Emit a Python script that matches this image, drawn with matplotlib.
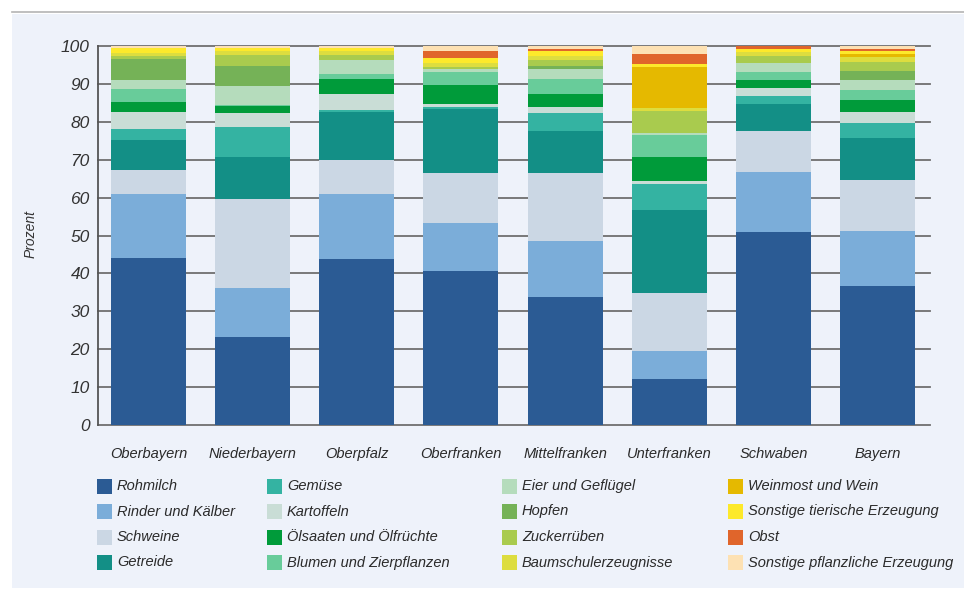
import matplotlib
matplotlib.use("Agg")
import matplotlib.pyplot as plt
from matplotlib.patches import Rectangle
from matplotlib.lines import Line2D
import numpy as np

plt.rcParams['font.family'] = ['Liberation Sans', 'DejaVu Sans']

regions = ["Oberbayern", "Niederbayern", "Oberpfalz", "Oberfranken",
           "Mittelfranken", "Unterfranken", "Schwaben", "Bayern"]

# Anteile am Produktionswert in Prozent, je Regierungsbezirk (Reihenfolge wie regions)
rohmilch          = [44.0, 23.3, 43.7, 40.6, 33.8, 12.2, 50.9, 36.6]
rinder_kaelber    = [17.0, 12.8, 17.2, 12.7, 14.7,  7.4, 15.8, 14.5]
schweine          = [ 6.3, 23.4,  8.9, 13.2, 17.9, 15.2, 11.0, 13.5]
getreide          = [ 7.9, 11.3, 12.9, 17.0, 11.3, 22.0,  7.1, 11.0]
gemuese           = [ 2.8,  7.7,  0.3,  0.5,  4.7,  6.8,  2.0,  4.0]
kartoffeln        = [ 4.7,  3.7,  4.4,  0.7,  1.6,  0.8,  2.2,  3.1]
oelsaaten         = [ 2.4,  1.9,  3.8,  5.0,  3.3,  6.4,  2.0,  3.1]
blumen            = [ 3.5,  0.4,  1.3,  3.4,  3.9,  5.7,  2.2,  2.6]
eier_gefluegel    = [ 2.3,  4.9,  3.7,  0.8,  2.8,  0.6,  2.2,  2.7]
hopfen            = [ 5.6,  5.3,  0.0,  0.0,  0.8,  0.0,  0.0,  2.3]
zuckerrueben      = [ 0.9,  2.8,  1.4,  0.5,  1.5,  5.8,  1.9,  2.4]
baumschule        = [ 0.8,  1.3,  1.2,  1.1,  1.1,  0.7,  1.0,  1.2]
weinmost_wein     = [ 0.0,  0.0,  0.0,  0.0,  0.0, 10.9,  0.0,  1.0]
sonst_tierisch    = [ 1.4,  0.7,  0.7,  1.3,  1.2,  0.8,  0.8,  0.6]
obst              = [ 0.0,  0.1,  0.1,  1.9,  0.7,  2.6,  0.8,  0.7]
sonst_pflanzlich  = [ 0.4,  0.4,  0.4,  1.3,  0.7,  2.1,  0.1,  0.7]

series_labels = ["Rohmilch", "Rinder und Kälber", "Schweine", "Getreide",
                 "Gemüse", "Kartoffeln", "Ölsaaten und Ölfrüchte", "Blumen und Zierpflanzen",
                 "Eier und Geflügel", "Hopfen", "Zuckerrüben", "Baumschulerzeugnisse",
                 "Weinmost und Wein", "Sonstige tierische Erzeugung", "Obst",
                 "Sonstige pflanzliche Erzeugung"]
series_values = [rohmilch, rinder_kaelber, schweine, getreide,
                 gemuese, kartoffeln, oelsaaten, blumen,
                 eier_gefluegel, hopfen, zuckerrueben, baumschule,
                 weinmost_wein, sonst_tierisch, obst, sonst_pflanzlich]
series_colors = ["#2b5b94", "#7badd9", "#cbd7e4", "#138f86",
                 "#34b3a2", "#c9ddd6", "#009b3a", "#68cc9a",
                 "#b5dcbc", "#75b257", "#a9cb4e", "#dddd3f",
                 "#e5b900", "#fde92b", "#e0652b", "#fde1b3"]

W, H = 964, 590
fig = plt.figure(figsize=(W / 100, H / 100), dpi=100)
fig.patch.set_facecolor("white")

def fx(px):
    return px / W

def fy(py):
    return 1 - py / H

# Hintergrundfläche und Trennlinie oben
fig.add_artist(Rectangle((fx(12), fy(588)), fx(W - 12), (588 - 14) / H,
                         transform=fig.transFigure, facecolor="#eef2fa",
                         edgecolor="none", zorder=0))
fig.add_artist(Line2D([fx(12), 1], [fy(11.5), fy(11.5)], transform=fig.transFigure,
                      color="#b4b4b4", lw=1.2, zorder=1))

ax = fig.add_axes([fx(98), fy(425), fx(930 - 98), (425 - 46) / H])
ax.set_facecolor("none")

x = np.arange(len(regions))
bottom = np.zeros(len(regions))
for vals, col in zip(series_values, series_colors):
    vals = np.asarray(vals)
    ax.bar(x, vals, bottom=bottom, width=0.72, color=col, edgecolor="none",
           linewidth=0, zorder=3)
    bottom += vals

ax.set_xlim(-0.485, 7.504)
ax.set_ylim(0, 100)
ax.set_yticks(np.arange(0, 101, 10))
ax.yaxis.grid(True, color="#6f6f6f", lw=1.3, zorder=0)
ax.set_axisbelow(True)
for gl in ax.get_ygridlines():
    gl.set_clip_on(False)

for s in ["top", "right", "bottom"]:
    ax.spines[s].set_visible(False)
ax.spines["left"].set_color("#555555")
ax.spines["left"].set_linewidth(1.3)

ax.tick_params(axis="y", length=0, pad=6, labelsize=12.5, labelcolor="#333333")
ax.tick_params(axis="x", length=0, pad=16, labelsize=10.5, labelcolor="#2a2a2a")
ax.set_xticks(x)
ax.set_xticklabels(regions, style="italic")
for t in ax.get_yticklabels():
    t.set_style("italic")

ax.set_ylabel("Prozent", style="italic", fontsize=10, color="#333333")
ax.yaxis.set_label_coords((38 - 98) / (930 - 98), 0.504)

# Legende in vier Spalten
col_x = [97, 267, 502, 728]
row_y = [486, 511.5, 537, 562.5]
for i, (lab, col) in enumerate(zip(series_labels, series_colors)):
    c, r = divmod(i, 4)
    px, py = col_x[c], row_y[r]
    fig.add_artist(Rectangle((fx(px), fy(py + 7.5)), fx(15), 15 / H,
                             transform=fig.transFigure, facecolor=col,
                             edgecolor="none", zorder=2))
    fig.text(fx(px + 20), fy(py), lab, ha="left", va="center", style="italic",
             fontsize=10.5, color="#2a2a2a")

fig.savefig("out.png", dpi=100, facecolor=fig.get_facecolor())
